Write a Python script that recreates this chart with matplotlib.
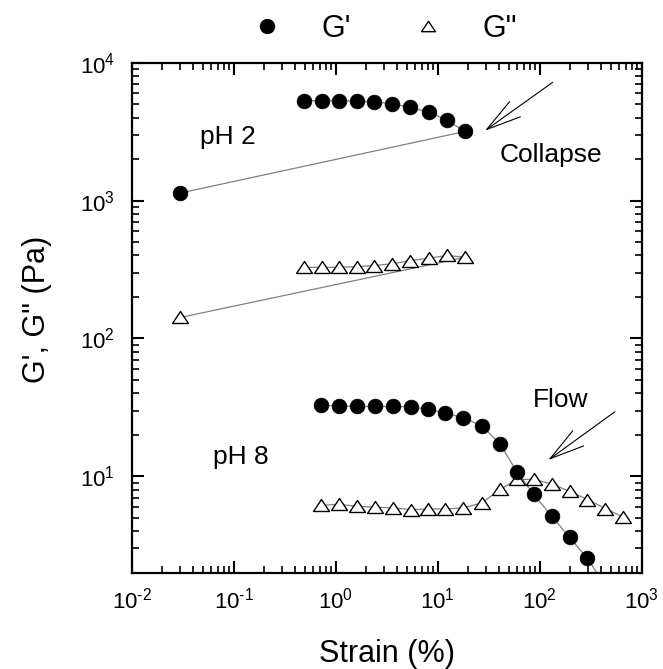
import numpy as np
import matplotlib
matplotlib.use('Agg')
import matplotlib.pyplot as plt
from matplotlib.path import Path
from matplotlib.lines import Line2D
from matplotlib.ticker import LogLocator, FuncFormatter, NullFormatter

plt.rcParams['font.family'] = ['Liberation Sans', 'DejaVu Sans']
plt.rcParams['mathtext.fontset'] = 'custom'
plt.rcParams['mathtext.rm'] = 'Liberation Sans'
plt.rcParams['mathtext.it'] = 'Liberation Sans:italic'
plt.rcParams['mathtext.bf'] = 'Liberation Sans:bold'

# ---------------- data ----------------
# pH 2 (first entry is the low-strain point, then descending strain sweep)
ph2_strain = [0.03, 18.5, 12.3, 8.2, 5.4, 3.6, 2.4, 1.6, 1.08, 0.73, 0.49]
ph2_Gp = [1135, 3170, 3830, 4380, 4740, 5035, 5200, 5260, 5300, 5300, 5300]
ph2_Gpp = [142, 388, 400, 382, 367, 348, 338, 332, 328, 328, 328]

# pH 8
ph8_strain_Gp = [0.72, 1.08, 1.62, 2.43, 3.64, 5.43, 8.0, 11.9, 17.8, 27.2,
                 40.8, 59.6, 87.6, 131, 196, 294, 441]
ph8_Gp = [32.8, 32.4, 32.1, 32.1, 32.1, 31.9, 30.7, 28.8, 26.6, 23.2,
          17.2, 10.8, 7.39, 5.14, 3.61, 2.54, 1.6]
ph8_strain_Gpp = [0.72, 1.08, 1.62, 2.43, 3.64, 5.43, 8.0, 11.9, 17.8, 27.2,
                  40.8, 59.6, 87.6, 131, 196, 294, 441, 662]
ph8_Gpp = [6.17, 6.25, 6.07, 5.97, 5.90, 5.74, 5.80, 5.80, 5.90, 6.42,
           8.03, 9.5, 9.5, 8.81, 7.80, 6.79, 5.84, 5.05]

legend_labels = ["G'", 'G"']
xlabel = 'Strain (%)'
ylabel = 'G\', G" (Pa)'

# ---------------- figure ----------------
fig = plt.figure(figsize=(6.63, 6.69), dpi=100)
ax = fig.add_axes([131.7 / 663, 1 - 572.7 / 669, 510 / 663, 510 / 669])

ax.set_xscale('log')
ax.set_yscale('log')
ax.set_xlim(1e-2, 1e3)
ax.set_ylim(2, 1e4)

tri = Path([(-1, -0.75), (1, -0.75), (0, 0.75), (0, 0)], closed=True)
line_kw = dict(color='#808080', lw=0.9, zorder=1)
circ_kw = dict(ls='none', marker='o', ms=10.6, mfc='black', mec='black', mew=0.5, zorder=4)
tri_kw = dict(ls='none', marker=tri, ms=11.5, mfc='white', mec='black', mew=1.0, zorder=3)

for x, y in [(ph2_strain, ph2_Gp), (ph2_strain, ph2_Gpp),
             (ph8_strain_Gp, ph8_Gp), (ph8_strain_Gpp, ph8_Gpp)]:
    ax.plot(x, y, **line_kw)

ax.plot(ph2_strain, ph2_Gpp, **tri_kw)
ax.plot(ph8_strain_Gpp, ph8_Gpp, **tri_kw)
ax.plot(ph2_strain, ph2_Gp, **circ_kw)
ax.plot(ph8_strain_Gp, ph8_Gp, **circ_kw)


def pow_fmt(v, pos):
    e = int(round(np.log10(v)))
    es = str(e).replace('-', '\u2010')
    return r'$\mathregular{10^{%s}}$' % es


# ticks
for axis in (ax.xaxis, ax.yaxis):
    axis.set_major_locator(LogLocator(base=10, numticks=20))
    axis.set_minor_locator(LogLocator(base=10, subs=np.arange(2, 10), numticks=20))
    axis.set_major_formatter(FuncFormatter(pow_fmt))
    axis.set_minor_formatter(NullFormatter())

ax.tick_params(which='both', direction='in', top=True, right=True, width=1.5,
               labelsize=16)
ax.tick_params(which='major', length=8.8)
ax.tick_params(which='minor', length=5.2, width=1.2)
ax.tick_params(axis='x', which='major', pad=11)
ax.tick_params(axis='y', which='major', pad=12)
for sp in ax.spines.values():
    sp.set_linewidth(1.6)

ax.set_xlabel(xlabel, fontsize=22)
ax.set_ylabel(ylabel, fontsize=22)
ax.xaxis.label.set_verticalalignment('baseline')
ax.xaxis.set_label_coords(0.5, -0.1745)
ax.yaxis.label.set_verticalalignment('baseline')
ax.yaxis.set_label_coords(-0.170, 0.517)

# annotations
ax.text(0.1894, 0.8406, 'pH 2', transform=ax.transAxes, fontsize=19,
        ha='center', va='baseline')
ax.text(0.2133, 0.2131, 'pH 8', transform=ax.transAxes, fontsize=19,
        ha='center', va='baseline')
ax.text(0.8218, 0.8059, 'Collapse', transform=ax.transAxes, fontsize=19,
        ha='center', va='baseline')
ax.text(0.8418, 0.3255, 'Flow', transform=ax.transAxes, fontsize=19,
        ha='center', va='baseline')

arrow_kw = dict(arrowstyle='->,head_length=25,head_width=6.7', mutation_scale=1,
                lw=0.8, color='black', shrinkA=0, shrinkB=0)
ax.annotate('', xy=(0.6927, 0.8667), xytext=(0.8255, 0.9616),
            xycoords='axes fraction', textcoords='axes fraction', arrowprops=arrow_kw)
ax.annotate('', xy=(0.8169, 0.2210), xytext=(0.9476, 0.3157),
            xycoords='axes fraction', textcoords='axes fraction', arrowprops=arrow_kw)

# legend
handles = [Line2D([], [], ls='none', marker='o', ms=10, mfc='black', mec='black'),
           Line2D([], [], ls='none', marker=tri, ms=10, mfc='white', mec='black', mew=1.0)]
fig.legend(handles, legend_labels, loc='center',
           bbox_to_anchor=(384.5 / 663, 1 - 29 / 669), ncol=2, frameon=False,
           handlelength=1.0, handletextpad=1.3, columnspacing=2.0,
           borderpad=0, borderaxespad=0, fontsize=22)

fig.savefig('out.png', dpi=100)
